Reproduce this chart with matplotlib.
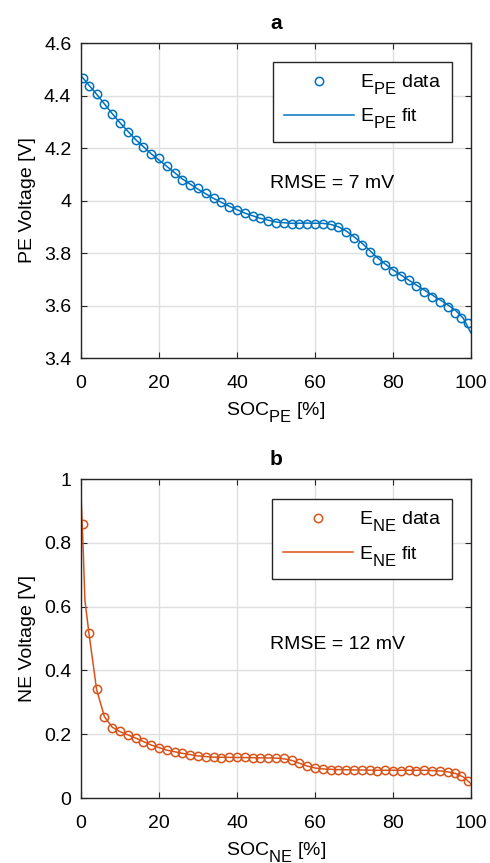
import matplotlib
matplotlib.use("Agg")
import matplotlib.pyplot as plt

# MATLAB-style TeX subscripts: larger and dropped lower than matplotlib's default
try:
    import matplotlib._mathtext as _mt
    _mt.SHRINK_FACTOR = 0.85
    _mt.FontConstantsBase.sub1 = 0.75
except Exception:
    pass

plt.rcParams['font.family'] = ['Liberation Sans', 'DejaVu Sans']
plt.rcParams['mathtext.fontset'] = 'custom'
plt.rcParams['mathtext.rm'] = 'Liberation Sans'
plt.rcParams['mathtext.it'] = 'Liberation Sans:italic'
plt.rcParams['mathtext.bf'] = 'Liberation Sans:bold'

# ---- data: positive electrode (PE) ----
soc_pe = [0.5, 2, 4, 6, 8, 10, 12, 14, 16, 18, 20, 22, 24, 26, 28, 30, 32, 34, 36, 38,
          40, 42, 44, 46, 48, 50, 52, 54, 56, 58, 60, 62, 64, 66, 68, 70, 72, 74, 76, 78,
          80, 82, 84, 86, 88, 90, 92, 94, 96, 97.5, 99.3]
e_pe = [4.466, 4.436, 4.406, 4.368, 4.330, 4.294, 4.262, 4.230, 4.205, 4.177,
        4.161, 4.131, 4.106, 4.078, 4.059, 4.046, 4.027, 4.008, 3.995, 3.976,
        3.964, 3.953, 3.942, 3.932, 3.923, 3.915, 3.913, 3.912, 3.912, 3.912,
        3.912, 3.911, 3.907, 3.900, 3.881, 3.856, 3.830, 3.805, 3.773, 3.754,
        3.733, 3.712, 3.697, 3.674, 3.653, 3.634, 3.614, 3.595, 3.573, 3.551, 3.532]
soc_pe_fit = [0, 2, 4, 6, 8, 10, 14, 18, 22, 26, 30, 34, 38, 42, 46, 50, 54, 58, 62,
              64, 66, 68, 70, 72, 74, 76, 78, 80, 84, 88, 92, 94, 96, 98, 100]
e_pe_fit = [4.475, 4.440, 4.405, 4.368, 4.331, 4.296, 4.232, 4.178, 4.130, 4.082,
            4.043, 4.008, 3.978, 3.952, 3.932, 3.918, 3.913, 3.914, 3.913,
            3.909, 3.900, 3.884, 3.862, 3.838, 3.810, 3.782, 3.758, 3.736, 3.697,
            3.659, 3.622, 3.603, 3.582, 3.552, 3.495]

# ---- data: negative electrode (NE) ----
soc_ne = [0.5, 2, 4, 6, 8, 10, 12, 14, 16, 18, 20, 22, 24, 26, 28, 30, 32, 34, 36, 38,
          40, 42, 44, 46, 48, 50, 52, 54, 56, 58, 60, 62, 64, 66, 68, 70, 72, 74, 76, 78,
          80, 82, 84, 86, 88, 90, 92, 94, 96, 97.5, 99.3]
e_ne = [0.858, 0.518, 0.343, 0.255, 0.220, 0.210, 0.197, 0.189, 0.176, 0.166,
        0.158, 0.150, 0.145, 0.140, 0.135, 0.132, 0.128, 0.127, 0.126, 0.127,
        0.127, 0.127, 0.126, 0.125, 0.126, 0.125, 0.124, 0.118, 0.110, 0.100,
        0.093, 0.090, 0.088, 0.089, 0.088, 0.089, 0.088, 0.087, 0.086, 0.087,
        0.086, 0.086, 0.087, 0.086, 0.087, 0.086, 0.085, 0.083, 0.078, 0.068, 0.052]
soc_ne_fit = [0, 0.5, 1, 2, 4, 6, 8, 10, 14, 18, 22, 26, 30, 34, 40, 46, 50, 52, 54,
              56, 58, 60, 62, 66, 70, 76, 82, 88, 92, 94, 96, 98, 100]
e_ne_fit = [0.95, 0.80, 0.62, 0.52, 0.34, 0.255, 0.222, 0.208, 0.188, 0.166,
            0.150, 0.140, 0.132, 0.128, 0.127, 0.126, 0.125, 0.123, 0.118,
            0.109, 0.100, 0.094, 0.091, 0.089, 0.088, 0.087, 0.087, 0.087, 0.085,
            0.082, 0.077, 0.066, 0.045]

BLUE = '#0072BD'
ORANGE = '#D95319'
GRID = '#dfdfdf'
SPINE = '#262626'
FS = 14

fig = plt.figure(figsize=(4.9, 8.63), dpi=100)
W, H = 490, 863


def add_ax(x0, x1, y0, y1):
    return fig.add_axes([x0 / W, (H - y1) / H, (x1 - x0) / W, (y1 - y0) / H])


def style(ax, yticks, yticklabels, ylim):
    ax.set_xlim(0, 100)
    ax.set_ylim(*ylim)
    ax.set_xticks([0, 20, 40, 60, 80, 100])
    ax.set_yticks(yticks)
    ax.set_yticklabels(yticklabels)
    ax.grid(True, color=GRID, linewidth=1.0)
    ax.set_axisbelow(True)
    ax.tick_params(direction='in', top=True, right=True, length=4.5, width=0.8,
                   labelsize=FS, colors=SPINE, labelcolor='black')
    ax.tick_params(axis='x', pad=12)
    ax.tick_params(axis='y', pad=7)
    for s in ax.spines.values():
        s.set_color(SPINE)
        s.set_linewidth(1.0)


def legend(ax, anchor):
    leg = ax.legend(loc='upper right', bbox_to_anchor=anchor, fontsize=FS,
                    fancybox=False, framealpha=1, edgecolor=SPINE, borderpad=0.55,
                    handlelength=3.6, handletextpad=0.3, labelspacing=0.5,
                    borderaxespad=0)
    leg.get_frame().set_linewidth(1.0)
    return leg


# ---- panel a ----
ax1 = add_ax(81, 471, 43, 358)
ax1.plot(soc_pe, e_pe, 'o', ls='none', mfc='none', mec=BLUE, ms=6, mew=1.1,
         label=r'E$_{\rm PE}$ data')
ax1.plot(soc_pe_fit, e_pe_fit, '-', color=BLUE, lw=1.1, label=r'E$_{\rm PE}$ fit')
style(ax1, [3.4, 3.6, 3.8, 4.0, 4.2, 4.4, 4.6],
      ['3.4', '3.6', '3.8', '4', '4.2', '4.4', '4.6'], (3.4, 4.6))
ax1.set_xlabel(r'SOC$_{\rm PE}$ [%]', fontsize=FS, labelpad=6)
ax1.set_ylabel('PE Voltage [V]', fontsize=FS, labelpad=6)
ax1.set_title('a', fontsize=15, fontweight='bold', pad=10)
ax1.text(48.5, 4.065, 'RMSE = 7 mV', fontsize=FS, va='center', ha='left')
legend(ax1, (0.951, 0.94))

# ---- panel b ----
ax2 = add_ax(81, 471, 479, 798)
ax2.plot(soc_ne, e_ne, 'o', ls='none', mfc='none', mec=ORANGE, ms=6, mew=1.1,
         label=r'E$_{\rm NE}$ data')
ax2.plot(soc_ne_fit, e_ne_fit, '-', color=ORANGE, lw=1.1, label=r'E$_{\rm NE}$ fit')
style(ax2, [0, 0.2, 0.4, 0.6, 0.8, 1.0],
      ['0', '0.2', '0.4', '0.6', '0.8', '1'], (0, 1))
ax2.set_xlabel(r'SOC$_{\rm NE}$ [%]', fontsize=FS, labelpad=6)
ax2.set_ylabel('NE Voltage [V]', fontsize=FS, labelpad=6)
ax2.set_title('b', fontsize=15, fontweight='bold', pad=10)
ax2.text(48.5, 0.48, 'RMSE = 12 mV', fontsize=FS, va='center', ha='left')
legend(ax2, (0.951, 0.937))

fig.savefig('out.png', dpi=100)
